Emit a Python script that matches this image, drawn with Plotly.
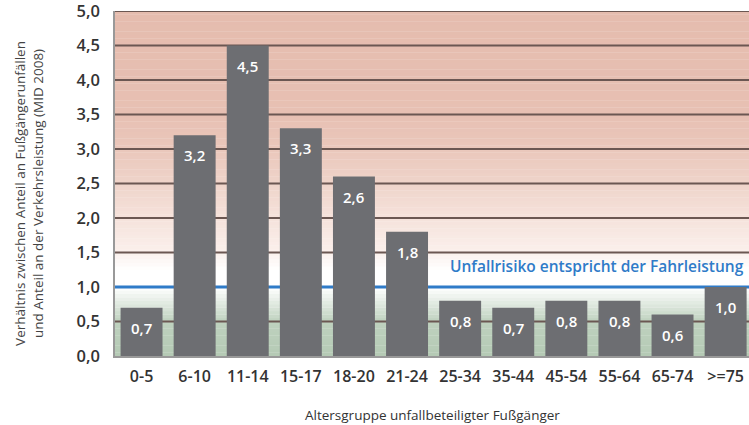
import plotly.graph_objects as go

categories = ["0-5", "6-10", "11-14", "15-17", "18-20", "21-24", "25-34", "35-44", "45-54", "55-64", "65-74", ">=75"]
values = [0.7, 3.2, 4.5, 3.3, 2.6, 1.8, 0.8, 0.7, 0.8, 0.8, 0.6, 1.0]
value_labels = ["0,7", "3,2", "4,5", "3,3", "2,6", "1,8", "0,8", "0,7", "0,8", "0,8", "0,6", "1,0"]
y_ticks = [0, 0.5, 1.0, 1.5, 2.0, 2.5, 3.0, 3.5, 4.0, 4.5, 5.0]
y_tick_labels = ["0,0", "0,5", "1,0", "1,5", "2,0", "2,5", "3,0", "3,5", "4,0", "4,5", "5,0"]
reference_level = 1.0
reference_label = "Unfallrisiko entspricht der Fahrleistung"
y_title = "Verhältnis zwischen Anteil an Fußgängerunfällen<br>und Anteil an der Verkehrsleistung (MID 2008)"
x_title = "Altersgruppe unfallbeteiligter Fußgänger"

FONT = "Open Sans"
X_RANGE = [-0.5, 11.44]

# background gradient color stops (y value, rgb)
stops = [
    (0.0, (181, 202, 181)),
    (0.5, (190, 209, 190)),
    (0.97, (252, 253, 252)),
    (1.0, (255, 255, 255)),
    (1.25, (255, 255, 255)),
    (1.5, (251, 240, 236)),
    (2.0, (245, 226, 219)),
    (2.5, (239, 212, 202)),
    (3.0, (234, 199, 187)),
    (3.5, (231, 192, 179)),
    (5.0, (229, 188, 174)),
]

def color_at(v):
    for (a, ca), (b, cb) in zip(stops[:-1], stops[1:]):
        if a <= v <= b:
            t = (v - a) / (b - a) if b > a else 0
            c = [round(ca[i] + (cb[i] - ca[i]) * t) for i in range(3)]
            return f"rgb({c[0]},{c[1]},{c[2]})"
    return "white"

x_idx = list(range(len(categories)))

shapes = []
n = 100
for i in range(n):
    y0 = 5.0 * i / n
    y1 = 5.0 * (i + 1) / n
    shapes.append(dict(type="rect", xref="x", yref="y", x0=X_RANGE[0], x1=X_RANGE[1],
                       y0=y0 - 0.002, y1=y1 + 0.002,
                       fillcolor=color_at((y0 + y1) / 2), line=dict(width=0), layer="below"))

for yv in y_ticks[1:]:
    if abs(yv - reference_level) < 1e-9:
        continue
    shapes.append(dict(type="line", xref="x", yref="y", x0=X_RANGE[0], x1=X_RANGE[1], y0=yv, y1=yv,
                       line=dict(color="#6b5752", width=2), layer="between"))

shapes.append(dict(type="line", xref="x", yref="y", x0=X_RANGE[0], x1=X_RANGE[1],
                   y0=reference_level, y1=reference_level,
                   line=dict(color="#2f7bc8", width=3), layer="between"))

fig = go.Figure()
fig.add_trace(go.Bar(
    x=x_idx, y=values, marker=dict(color="#6d6e72", line=dict(width=0)),
    width=0.79, hoverinfo="skip",
))

annotations = []
for xi, v, lab in zip(x_idx, values, value_labels):
    annotations.append(dict(x=xi, y=v, xref="x", yref="y", text=lab, showarrow=False,
                            yanchor="middle", yshift=-20,
                            font=dict(family=FONT, size=15, color="white", weight=600)))

annotations.append(dict(x=1, y=1.31, xref="paper", yref="y", xanchor="right", yanchor="middle",
                        xshift=-3, text=reference_label, showarrow=False,
                        font=dict(family=FONT, size=15.5, color="#2f7bc8", weight=600)))

annotations.append(dict(x=-0.1356, y=0.47, xref="paper", yref="paper", textangle=-90,
                        xanchor="center", yanchor="middle", text=y_title, showarrow=False,
                        font=dict(family=FONT, size=13.5, color="#444444")))

annotations.append(dict(x=0.5, y=-0.171, xref="paper", yref="paper", xanchor="center", yanchor="middle",
                        text=x_title, showarrow=False,
                        font=dict(family=FONT, size=13.5, color="#333333")))

fig.update_layout(
    width=749, height=425,
    margin=dict(l=115, r=0, t=11, b=69),
    paper_bgcolor="white",
    plot_bgcolor="rgba(0,0,0,0)",
    showlegend=False,
    shapes=shapes,
    annotations=annotations,
    xaxis=dict(range=X_RANGE, tickmode="array", tickvals=x_idx, ticktext=categories,
               showgrid=False, zeroline=False,
               showline=True, linecolor="#999999", linewidth=1.5,
               ticks="outside", ticklen=5, tickcolor="rgba(0,0,0,0)",
               ticklabeloverflow="allow",
               tickfont=dict(family=FONT, size=16, color="#333333", weight=600),
               fixedrange=True),
    yaxis=dict(range=[0, 5], tickmode="array", tickvals=y_ticks, ticktext=y_tick_labels,
               showgrid=False, zeroline=False,
               showline=True, linecolor="#999999", linewidth=1.5,
               ticks="outside", ticklen=10, tickcolor="rgba(0,0,0,0)",
               ticklabeloverflow="allow",
               tickfont=dict(family=FONT, size=16.5, color="#333333", weight=600),
               fixedrange=True),
)

fig.write_html("out.html")
